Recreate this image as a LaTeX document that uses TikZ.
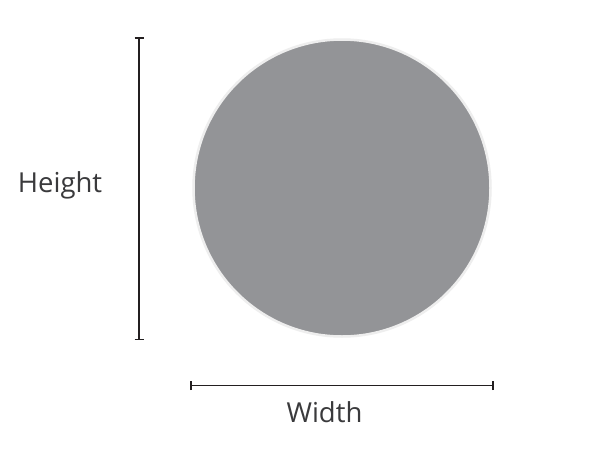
\documentclass[tikz,border=0pt]{standalone}
\usepackage{fontspec}
\setmainfont{Open Sans}
\definecolor{txt}{HTML}{3A3A3C}
\definecolor{disc}{HTML}{939497}
\definecolor{ring}{HTML}{EEEEEE}
\definecolor{dim}{HTML}{231F20}
\tikzset{
  dimline/.style={draw=dim, line width=1.6pt},
  lbl/.style={text=txt, font=\fontsize{27.5}{30}\selectfont, inner sep=0pt},
}
\begin{document}
\begin{tikzpicture}[x=1pt,y=-1pt]
\useasboundingbox[fill=white] (0,0) rectangle (592,458);
% circle
\fill[disc, draw=ring, line width=2.5pt] (342,188) circle (148.5);
% vertical dimension
\coordinate (vt) at (139,38);
\coordinate (vb) at (139,339.5);
\draw[dimline] (vt) -- (vb);
\draw[dimline] ([xshift=-4.5pt]vt) -- ([xshift=4.5pt]vt);
\draw[dimline] ([xshift=-4.5pt]vb) -- ([xshift=4.5pt]vb);
% horizontal dimension
\coordinate (hl) at (191,385.5);
\coordinate (hr) at (493,385.5);
\draw[dimline] (hl) -- (hr);
\draw[dimline] ([yshift=-4.5pt]hl) -- ([yshift=4.5pt]hl);
\draw[dimline] ([yshift=-4.5pt]hr) -- ([yshift=4.5pt]hr);
% labels
\node[lbl, anchor=base] (h) at (60,192) {Height};
\node[lbl, anchor=base] (w) at (324.5,422.5) {Width};
\end{tikzpicture}
\end{document}
